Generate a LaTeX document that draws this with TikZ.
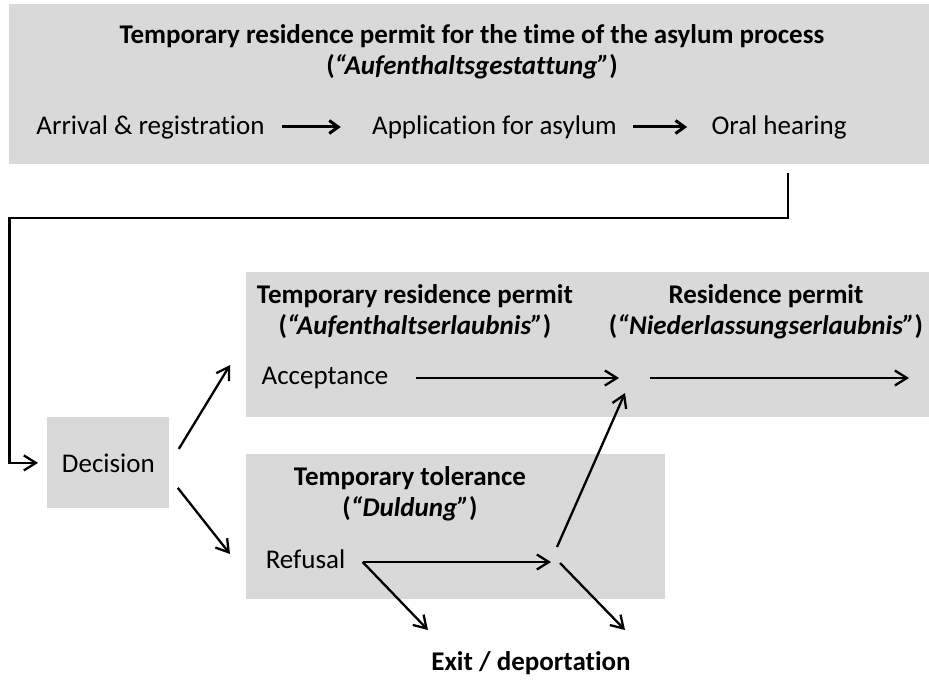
\documentclass[tikz,border=0pt]{standalone}
\usepackage{fontspec}
\setmainfont{Carlito}[Ligatures=NoCommon]
\usetikzlibrary{arrows.meta}
\colorlet{panel fill}{black!15}
\tikzset{panel/.style={fill=panel fill, draw=none, inner sep=0pt, anchor=north west},
	txt/.style={font=\fontsize{13.5}{15}\selectfont, inner sep=0pt},
	heading/.style={font=\fontsize{13.5}{15.5}\selectfont\bfseries, align=center, inner sep=0pt},
	flow/.style={-{Straight Barb[length=6pt,width=7.5pt]}, line width=1.15pt},
	rowflow/.style={-{Straight Barb[length=4.5pt,width=6.5pt]}, line width=1.5pt}}

\begin{document}
\begin{tikzpicture}[x=0.5pt,y=-0.5pt]
		\useasboundingbox (0,0) rectangle (929,679);
		% grey panels
		\node[panel, minimum width=460pt, minimum height=80pt] (asylum) at (9,4) {};
		\node[panel, minimum width=341.5pt, minimum height=72.5pt] (permit) at (246,272) {};
		\node[panel, minimum width=209.5pt, minimum height=72.5pt] (tolerance) at (246,454) {};
		\node[panel, minimum width=61pt, minimum height=45.5pt] (decisionbox) at (47,417) {};
		
		% headings
		\node[heading] (asylumtitle) at (472,52) {Temporary residence permit for the time of the asylum process\\(\textit{“Aufenthaltsgestattung”})};
		\node[heading] (permittitle) at (415,312) {Temporary residence permit\\(\textit{“Aufenthaltserlaubnis”})};
		\node[heading] (settletitle) at (766,312) {Residence permit\\(\textit{“Niederlassungserlaubnis”})};
		\node[heading] (toltitle) at (410,494) {Temporary tolerance\\(\textit{“Duldung”})};
		\node[heading] (exit) at (531,663) {Exit / deportation};
		
		% steps
		\node[txt] (arrival) at (150.5,127) {Arrival \& registration};
		\node[txt] (application) at (494.5,127) {Application for asylum};
		\node[txt] (hearing) at (779,127) {Oral hearing};
		\node[txt] (decision) at (decisionbox.center) {Decision};
		\node[txt] (acceptance) at (325,378) {Acceptance};
		\node[txt] (refusal) at (305.5,559) {Refusal};
		
		\coordinate (hearingdrop) at (788,173);
		\coordinate (leftturn) at (9.5,218);
		\coordinate (accin) at (230,365);
		\coordinate (refin) at (230,554);
		\coordinate (permitin) at (619,378);
		\coordinate (permitout) at (650,378);
		\coordinate (permitend) at (909,378);
		\coordinate (permitup) at (625,393);
		\coordinate (tolin) at (551,562);
		\coordinate (tolup) at (557,547);
		\coordinate (toldown) at (560,563);
		\coordinate (exitleft) at (428,630);
		\coordinate (exitright) at (625,630);
		\coordinate (refstart) at ([xshift=8.5pt,yshift=-1.5pt]refusal.east);
		
		% arrows
		\draw[rowflow] ([xshift=8.5pt]arrival.east) -- ([xshift=-15.5pt]application.west);
		\draw[rowflow] ([xshift=8pt]application.east) -- ([xshift=-12pt]hearing.west);
		\draw[flow] (hearingdrop) |- (leftturn) |- ([xshift=-4.5pt]decisionbox.west);
		\draw[flow] ([xshift=4.5pt,yshift=7pt]decisionbox.east) -- (accin);
		\draw[flow] ([xshift=4pt,yshift=-12.5pt]decisionbox.east) -- (refin);
		\draw[flow] ([xshift=13.5pt]acceptance.east) -- (permitin);
		\draw[flow] (permitout) -- (permitend);
		\draw[flow] (refstart) -- (tolin);
		\draw[flow] (refstart) -- (exitleft);
		\draw[flow] (tolup) -- (permitup);
		\draw[flow] (toldown) -- (exitright);
		
		\end{tikzpicture}
\end{document}
